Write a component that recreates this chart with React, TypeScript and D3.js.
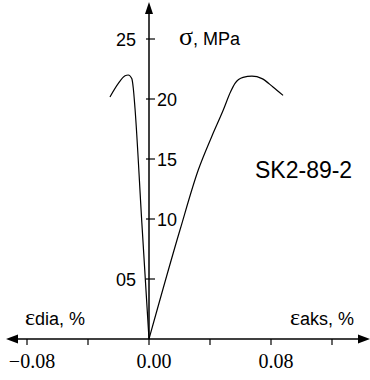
import React from "react";
import * as d3 from "d3";

// strain (%) vs stress (MPa)
const axialStrain = [0, 0.0203, 0.0323, 0.0411, 0.0487, 0.0535, 0.0564, 0.0617, 0.0675, 0.0741, 0.0813, 0.0879];
const axialStress = [0, 9.08, 14.08, 16.86, 19.08, 20.6, 21.3, 21.8, 21.9, 21.7, 21.0, 20.3];
const diaStrain = [-0.0256, -0.0201, -0.0157, -0.0136, -0.0113, -0.0103, -0.0092, -0.0047, 0];
const diaStress = [20.17, 21.3, 21.94, 22.0, 21.7, 20.9, 19.25, 9.7, 0];

const xTicks = [-0.08, -0.04, 0, 0.04, 0.08, 0.12];
const xTickLabels = ["\u22120.08", "", "0.00", "", "0.08", ""];
const yTicks = [5, 10, 15, 20, 25];
const yTickLabels = ["05", "10", "15", "20", "25"];
const yLabelLeft = [true, false, false, false, true];
const sampleName = "SK2-89-2";

export default function App() {
  const W = 370, H = 380;
  const x = d3.scaleLinear().domain([-0.08, 0.08]).range([27, 271]);
  const y = d3.scaleLinear().domain([0, 25]).range([339, 39]);
  const x0 = x(0), y0 = y(0);

  const line = d3
    .line<[number, number]>()
    .x((d) => x(d[0]))
    .y((d) => y(d[1]))
    .curve(d3.curveMonotoneX);

  const axial = axialStrain.map((s, i) => [s, axialStress[i]] as [number, number]);
  const dia = diaStrain.map((s, i) => [s, diaStress[i]] as [number, number]);

  const sans = "'Liberation Sans', Arial, sans-serif";
  const serif = "'Liberation Serif', 'Times New Roman', serif";

  return (
    <svg
      width={W}
      height={H}
      style={{ position: "absolute", left: 0, top: 0, background: "#fff" }}
    >
      <rect width={W} height={H} fill="#fff" />
      {/* x axis */}
      <line x1={14} x2={362} y1={y0} y2={y0} stroke="#000" strokeWidth={1.5} />
      <path d={`M6,${y0} L18,${y0 - 4.5} L18,${y0 + 4.5} Z`} fill="#000" />
      <path d={`M370,${y0} L358,${y0 - 4.5} L358,${y0 + 4.5} Z`} fill="#000" />
      {xTicks.map((t, i) => (
        <g key={"xt" + i}>
          <line x1={x(t)} x2={x(t)} y1={y0} y2={y0 + 6} stroke="#000" strokeWidth={1.2} />
          {xTickLabels[i] && (
            <text
              x={x(t) + 5}
              y={368}
              textAnchor="middle"
              fontFamily={serif}
              fontSize={20}
              fill="#000"
            >
              {xTickLabels[i]}
            </text>
          )}
        </g>
      ))}
      {/* y axis */}
      <line x1={x0} x2={x0} y1={y0} y2={10} stroke="#000" strokeWidth={1.5} />
      <path d={`M${x0},2 L${x0 - 4},14 L${x0 + 4},14 Z`} fill="#000" />
      {yTicks.map((t, i) => (
        <g key={"yt" + i}>
          <line x1={x0 - 3} x2={x0 + 6} y1={y(t)} y2={y(t)} stroke="#000" strokeWidth={1.2} />
          <text
            x={yLabelLeft[i] ? x0 - 13 : x0 + 8}
            y={y(t) + 6.5}
            textAnchor={yLabelLeft[i] ? "end" : "start"}
            fontFamily={sans}
            fontSize={18}
            fill="#000"
          >
            {yTickLabels[i]}
          </text>
        </g>
      ))}
      {/* curves */}
      <path d={line(axial) || ""} fill="none" stroke="#000" strokeWidth={1.2} />
      <path d={line(dia) || ""} fill="none" stroke="#000" strokeWidth={1.2} />
      {/* labels */}
      <text x={179} y={45} fontFamily={sans} fontSize={18} fill="#000">
        <tspan fontFamily={serif} fontSize={26}>σ</tspan>
        <tspan>, MPa</tspan>
      </text>
      <text x={255} y={178} fontFamily={sans} fontSize={23} fill="#000">
        {sampleName}
      </text>
      <text x={25} y={325} fontFamily={sans} fontSize={18} fill="#000">
        <tspan fontFamily={serif} fontSize={24}>ε</tspan>
        <tspan>dia, %</tspan>
      </text>
      <text x={290} y={325} fontFamily={sans} fontSize={18} fill="#000">
        <tspan fontFamily={serif} fontSize={24}>ε</tspan>
        <tspan>aks, %</tspan>
      </text>
    </svg>
  );
}
